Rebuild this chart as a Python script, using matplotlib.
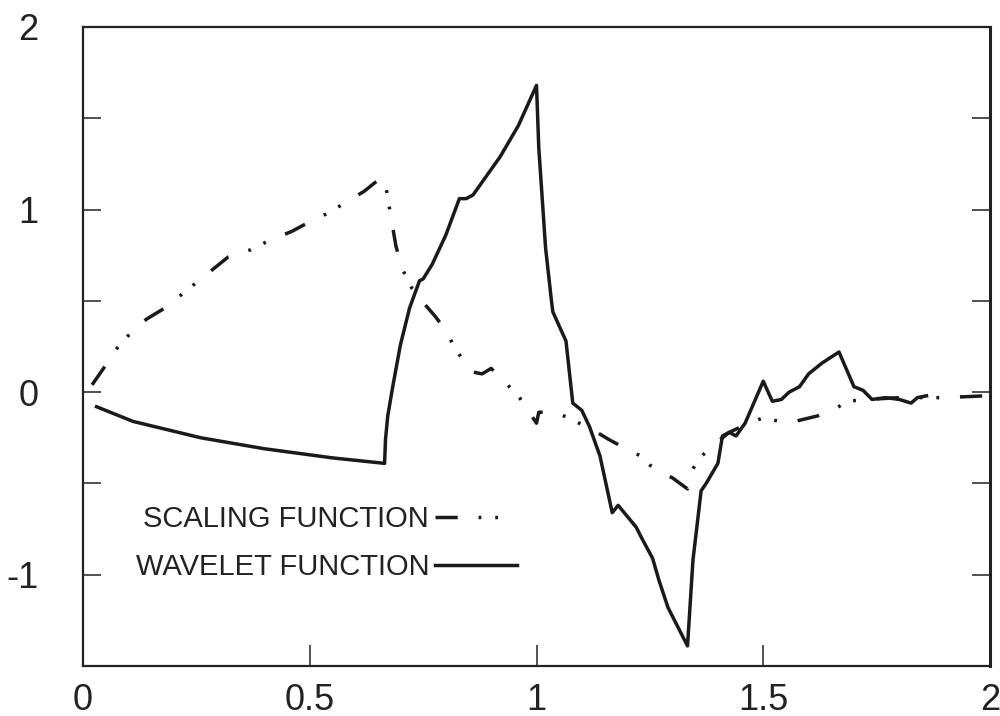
import numpy as np
import matplotlib
matplotlib.use('Agg')
import matplotlib.pyplot as plt
from matplotlib.ticker import MultipleLocator, FuncFormatter

plt.rcParams['font.family'] = ['Liberation Sans', 'DejaVu Sans']
plt.rcParams['lines.scale_dashes'] = False

# scaling function (dash-dot-dot curve)
scal_x = [0.02, 0.048, 0.075, 0.10, 0.14, 0.18, 0.22, 0.25, 0.29, 0.32, 0.37, 0.41,
          0.46, 0.49, 0.54, 0.58, 0.62, 0.65, 0.665, 0.675, 0.69, 0.705, 0.725, 0.747,
          0.775, 0.80, 0.82, 0.84, 0.86, 0.88, 0.90, 0.93, 0.96, 1.0, 1.005, 1.04,
          1.07, 1.11, 1.14, 1.16, 1.19, 1.23, 1.25, 1.27, 1.30, 1.333, 1.338, 1.34,
          1.36, 1.39, 1.425, 1.46, 1.50, 1.535, 1.57, 1.62, 1.66, 1.685, 1.73, 1.80,
          1.90, 1.99]
scal_y = [0.04, 0.14, 0.24, 0.31, 0.40, 0.46, 0.54, 0.60, 0.68, 0.74, 0.78, 0.83,
          0.88, 0.92, 0.98, 1.04, 1.10, 1.16, 1.17, 1.02, 0.80, 0.67, 0.57, 0.50,
          0.42, 0.34, 0.24, 0.17, 0.11, 0.10, 0.13, 0.055, -0.02, -0.17, -0.11, -0.11,
          -0.14, -0.19, -0.23, -0.26, -0.30, -0.35, -0.40, -0.43, -0.47, -0.53, -0.49, -0.44,
          -0.36, -0.29, -0.22, -0.18, -0.14, -0.16, -0.16, -0.13, -0.09, -0.05, -0.04, -0.03,
          -0.03, -0.02]

# wavelet function (solid curve)
wave_x = [0.03, 0.11, 0.26, 0.40, 0.55, 0.665, 0.667, 0.672, 0.683, 0.70, 0.72, 0.742,
          0.75, 0.77, 0.80, 0.83, 0.845, 0.86, 0.92, 0.96, 1.0, 1.005, 1.02, 1.033,
          1.036, 1.065, 1.08, 1.10, 1.117, 1.14, 1.167, 1.18, 1.22, 1.23, 1.256, 1.27,
          1.29, 1.333, 1.345, 1.363, 1.374, 1.40, 1.41, 1.425, 1.44, 1.46, 1.50, 1.52,
          1.54, 1.557, 1.58, 1.60, 1.63, 1.667, 1.70, 1.72, 1.74, 1.77, 1.80, 1.826,
          1.84, 1.86]
wave_y = [-0.08, -0.16, -0.25, -0.31, -0.36, -0.39, -0.26, -0.13, 0.03, 0.26, 0.46, 0.61,
          0.62, 0.70, 0.86, 1.06, 1.06, 1.08, 1.29, 1.46, 1.68, 1.34, 0.79, 0.50,
          0.44, 0.28, -0.06, -0.10, -0.19, -0.35, -0.66, -0.62, -0.74, -0.79, -0.91, -1.03,
          -1.18, -1.39, -0.92, -0.54, -0.50, -0.39, -0.24, -0.22, -0.24, -0.17, 0.06, -0.05,
          -0.04, 0.0, 0.03, 0.10, 0.16, 0.22, 0.03, 0.01, -0.04, -0.03, -0.04, -0.06,
          -0.03, -0.02]

fig = plt.figure(figsize=(10, 7.16), dpi=100)
ax = fig.add_axes([0.083, 0.0698, 0.907, 0.8925])

ink = '#1a1a1a'
ax.plot(scal_x, scal_y, color=ink, lw=2.5, solid_capstyle='butt',
        dash_capstyle='butt', linestyle=(0, (16, 15, 2, 10, 2, 15)),
        label='SCALING FUNCTION')
ax.plot(wave_x, wave_y, color=ink, lw=2.5, label='WAVELET FUNCTION')

ax.set_xlim(0, 2)
ax.set_ylim(-1.5, 2)

ax.xaxis.set_major_locator(MultipleLocator(0.5))
ax.yaxis.set_major_locator(MultipleLocator(0.5))
ax.xaxis.set_major_formatter(FuncFormatter(lambda v, p: '%g' % v))
ax.yaxis.set_major_formatter(FuncFormatter(
    lambda v, p: '%d' % round(v) if abs(v - round(v)) < 1e-6 else ''))

ax.tick_params(axis='x', direction='in', length=15, width=1.1, pad=12,
               labelsize=26, colors='#222222', top=False)
ax.tick_params(axis='y', direction='in', length=13, width=1.1, pad=32,
               labelsize=26, colors='#222222', right=True)
for side in ['left', 'bottom', 'top']:
    ax.spines[side].set_linewidth(1.6)
    ax.spines[side].set_color('#222222')
ax.spines['right'].set_linewidth(2.2)
ax.spines['right'].set_color('#222222')

leg = ax.legend(loc='upper left', bbox_to_anchor=(0.058, 0.252), frameon=False,
                markerfirst=False, fontsize=21, handlelength=2.8,
                handletextpad=0.2, labelspacing=0.68, borderpad=0,
                borderaxespad=0)
for t in leg.get_texts():
    t.set_color('#222222')

fig.savefig('out.png', dpi=100)
